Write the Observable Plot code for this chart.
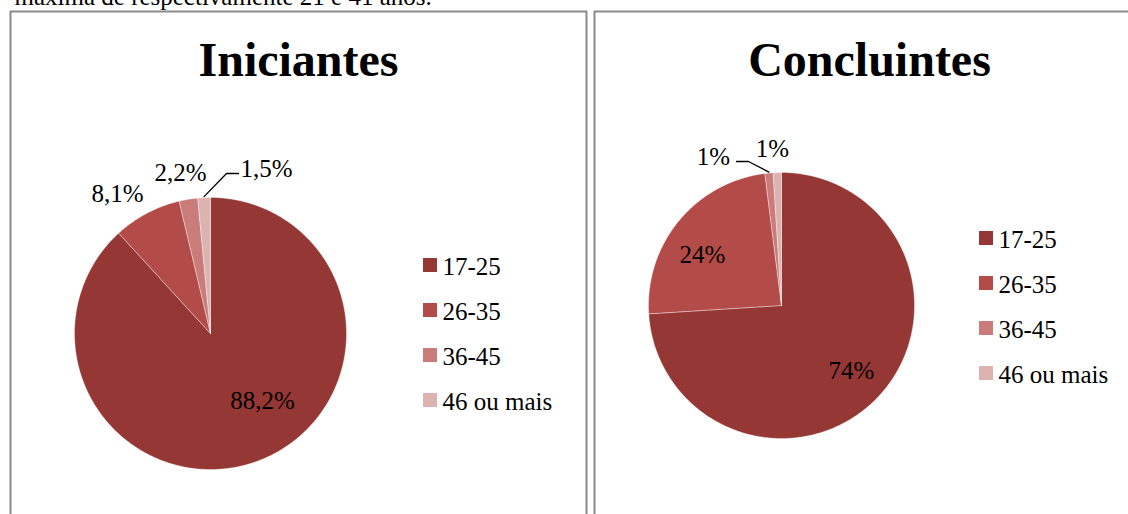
<!DOCTYPE html>
<html>
<head>
<meta charset="utf-8">
<script src="https://cdn.jsdelivr.net/npm/d3@7"></script>
<script src="https://cdn.jsdelivr.net/npm/@observablehq/plot@0.6"></script>
<style>
  html, body { margin: 0; padding: 0; background: white; overflow: hidden; }
</style>
</head>
<body>
<div id="chart"></div>
<script>
// ---- data ----
const categories = ["17-25", "26-35", "36-45", "46 ou mais"];
const iniciantes = [88.2, 8.1, 2.2, 1.5];
const concluintes = [74, 24, 1, 1];
const labelsIniciantes = ["88,2%", "8,1%", "2,2%", "1,5%"];
const labelsConcluintes = ["74%", "24%", "1%", "1%"];
const titles = ["Iniciantes", "Concluintes"];
const introText = "máxima de respectivamente 21 e 41 anos.";

// ---- styling / layout ----
const colors = ["#943735", "#B34B48", "#C97C7A", "#DDB3B2"];
const serif = "Liberation Serif";
const panels = [
  {title: titles[0], values: iniciantes, labels: labelsIniciantes, cx: 210, cy: 333, r: 136,
   titleX: 298, legendX: 423, legendY: 265,
   labelPos: [[262, 400], [117, 193], [180, 172], [266, 168]],
   leader: {slice: 3, pts: [[226, 173], [238, 173]]}},
  {title: titles[1], values: concluintes, labels: labelsConcluintes, cx: 781, cy: 305, r: 133,
   titleX: 869, legendX: 979, legendY: 238,
   labelPos: [[851, 370], [702, 254], [713, 156], [772, 148]],
   leader: {slice: 2, pts: [[748, 161], [736, 161]]}}
];
const legendStep = 45;

// ---- build geometry from data ----
const pie = d3.pie().sort(null).value(d => d);
const slicePts = [];
const texts = [];
const leaderPts = [];
const legendRects = [];
const legendTexts = [];
panels.forEach((p, pi) => {
  const arcs = pie(p.values);
  arcs.forEach((a, i) => {
    const id = pi + "-" + i;
    const pt = (ang, rr) => ({id, cat: categories[i], x: p.cx + rr * Math.sin(ang), y: p.cy - rr * Math.cos(ang)});
    slicePts.push(pt(0, 0));
    const n = Math.max(2, Math.ceil((a.endAngle - a.startAngle) / 0.01));
    for (let k = 0; k <= n; k++) slicePts.push(pt(a.startAngle + (a.endAngle - a.startAngle) * k / n, p.r));
    slicePts.push(pt(0, 0));
    const lp = p.labelPos[i];
    texts.push({x: lp[0], y: lp[1], text: p.labels[i]});
    legendRects.push({cat: categories[i], x1: p.legendX, x2: p.legendX + 14,
      y1: p.legendY + i * legendStep - 7, y2: p.legendY + i * legendStep + 7});
    legendTexts.push({x: p.legendX + 19, y: p.legendY + i * legendStep + 1, text: categories[i]});
  });
  // leader line from slice edge
  const la = arcs[p.leader.slice];
  const mid = (la.startAngle + la.endAngle) / 2;
  leaderPts.push({id: pi, x: p.cx + (p.r + 1) * Math.sin(mid), y: p.cy - (p.r + 1) * Math.cos(mid)});
  p.leader.pts.forEach(q => leaderPts.push({id: pi, x: q[0], y: q[1]}));
});

const borders = [
  {id: "L", x: 10, y: 514}, {id: "L", x: 10, y: 11}, {id: "L", x: 586, y: 11}, {id: "L", x: 586, y: 514},
  {id: "R", x: 594, y: 514}, {id: "R", x: 594, y: 11}, {id: "R", x: 1128, y: 11}
];

const chart = Plot.plot({
  width: 1128,
  height: 514,
  margin: 0,
  x: {type: "identity", axis: null},
  y: {type: "identity", axis: null},
  color: {domain: categories, range: colors},
  style: {fontFamily: serif, background: "white", overflow: "hidden"},
  marks: [
    Plot.text([introText], {x: 14, y: -4, text: d => d, textAnchor: "start", fontSize: 25, fontFamily: serif, fill: "black"}),
    Plot.line(borders, {x: "x", y: "y", z: "id", stroke: "#8a8a8a", strokeWidth: 2}),
    Plot.line(slicePts, {x: "x", y: "y", z: "id", fill: "cat", stroke: "white", strokeWidth: 0.6, strokeOpacity: 0.6}),
    Plot.line(leaderPts, {x: "x", y: "y", z: "id", stroke: "black", strokeWidth: 1.3}),
    Plot.text(texts, {x: "x", y: "y", text: "text", fontSize: 25, fontFamily: serif, fill: "black"}),
    Plot.text(panels, {x: "titleX", y: 60, text: "title", fontSize: 48, fontWeight: "bold", fontFamily: serif, fill: "black"}),
    Plot.rect(legendRects, {x1: "x1", x2: "x2", y1: "y1", y2: "y2", fill: "cat"}),
    Plot.text(legendTexts, {x: "x", y: "y", text: "text", textAnchor: "start", fontSize: 25, fontFamily: serif, fill: "black"})
  ]
});
document.getElementById("chart").appendChild(chart);
</script>
</body>
</html>
